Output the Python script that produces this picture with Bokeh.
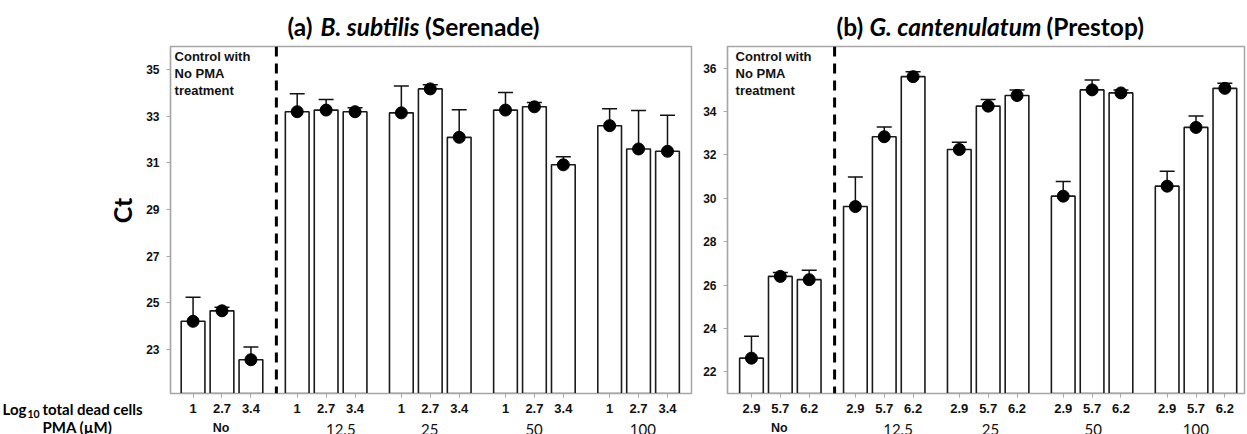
import math
from bokeh.plotting import figure
from bokeh.models import Range1d, FixedTicker, Span, Label, Whisker, TeeHead, ColumnDataSource
from bokeh.layouts import row, column
from bokeh.core.properties import value
from bokeh.embed import file_html
from bokeh.resources import INLINE

# ---------------- data ----------------
groups = ["No", "12.5", "25", "50", "100"]
left_cells = ["1", "2.7", "3.4"]
right_cells = ["2.9", "5.7", "6.2"]

left_ct = [24.2, 24.65, 22.55, 33.2, 33.27, 33.2, 33.15, 34.18, 32.1, 33.27, 33.41, 30.92, 32.6, 31.6, 31.5]
left_lo = [23.1, 24.5, 22.0, 32.5, 32.8, 32.99, 31.98, 34.0, 30.88, 32.5, 33.2, 30.62, 31.88, 29.98, 29.98]
left_hi = [25.23, 24.8, 23.1, 33.97, 33.72, 33.37, 34.3, 34.36, 33.28, 34.03, 33.6, 31.27, 33.33, 33.25, 33.05]

right_ct = [22.63, 26.4, 26.25, 29.62, 32.84, 35.61, 32.25, 34.25, 34.74, 30.1, 35.0, 34.86, 30.56, 33.27, 35.07]
right_lo = [21.6, 26.2, 25.86, 28.3, 32.45, 35.46, 31.95, 33.95, 34.51, 29.5, 34.53, 34.68, 29.87, 32.75, 34.81]
right_hi = [23.64, 26.58, 26.68, 30.98, 33.29, 35.83, 32.59, 34.56, 35.0, 30.78, 35.46, 35.0, 31.25, 33.8, 35.31]

left_yticks = [23, 25, 27, 29, 31, 33, 35]
right_yticks = [22, 24, 26, 28, 30, 32, 34, 36]

left_title = ["(a)", "B. subtilis", "(Serenade)"]
right_title = ["(b)", "G. cantenulatum", "(Prestop)"]

# ---------------- layout ----------------
W, H = 1247, 434
CAP_W = 143          # left caption column
TOP_H = 45           # title strip
BOT_H = 14           # group-label strip
MAIN_H = H - TOP_H - BOT_H
GROUP_STEP = 3.6
xs = [round(g * GROUP_STEP + i, 2) for g in range(len(groups)) for i in range(3)]
ARIAL = "Liberation Sans"
CAL = "Lato"


def strip(width, height, x_range, y_range, bl=0, br=0):
    s = figure(width=width, height=height, x_range=x_range, y_range=y_range,
               x_axis_type=None, y_axis_type=None, output_backend="svg",
               toolbar_location=None, min_border_left=bl, min_border_right=br,
               min_border_top=0, min_border_bottom=0)
    s.outline_line_color = None
    s.grid.visible = False
    return s


def make_panel(width, bl, br, xr, yr, yticks, cells, ct, lo, hi, control_x):
    p = figure(width=width, height=MAIN_H, min_border_left=bl, min_border_right=br,
               min_border_top=1, min_border_bottom=MAIN_H - 1 - 347,
               x_range=Range1d(*xr), y_range=Range1d(*yr),
               output_backend="svg", toolbar_location=None)
    p.grid.visible = False
    p.outline_line_color = "#a6a6a6"
    p.outline_line_width = 1.5

    src = ColumnDataSource(dict(x=xs, ct=ct, lo=lo, hi=hi))
    p.vbar(x="x", width=0.82, bottom=yr[0] - 1, top="ct", source=src,
           fill_color="white", line_color="#1a1a1a", line_width=1.6)
    p.add_layout(Whisker(base="x", upper="hi", lower="lo", source=src,
                         line_color="#111111", line_width=1.5,
                         upper_head=TeeHead(size=15, line_width=1.5, line_color="#111111"),
                         lower_head=TeeHead(size=15, line_width=1.5, line_color="#111111")))
    p.scatter(x="x", y="ct", source=src, size=12, color="black")
    p.add_layout(Span(location=2.88, dimension="height", line_color="black",
                      line_width=3, line_dash="10 7"))

    for ax in (p.xaxis[0], p.yaxis[0]):
        ax.axis_line_color = "#a6a6a6"
        ax.axis_line_width = 1.2
        ax.major_tick_line_color = "#a6a6a6"
        ax.major_tick_in = 0
        ax.major_tick_out = 4
        ax.minor_tick_line_color = None
        ax.major_label_text_font = ARIAL
        ax.major_label_text_font_style = "bold"
        ax.major_label_text_color = "#111111"
    p.yaxis.ticker = FixedTicker(ticks=yticks)
    p.yaxis.major_label_text_font_size = "12px"
    p.yaxis.major_label_standoff = 7
    p.xaxis.ticker = FixedTicker(ticks=xs)
    p.xaxis.major_label_overrides = {x: cells[k % 3] for k, x in enumerate(xs)}
    p.xaxis.major_label_text_font_size = "13px"
    p.xaxis.major_label_standoff = 6

    # control note inside frame (pixel offsets from frame top)
    ppy = (yr[1] - yr[0]) / 347.0
    for k, line in enumerate(["Control with", "No PMA", "treatment"]):
        p.add_layout(Label(x=control_x, y=yr[1] - (10 + 17 * k) * ppy, text=line,
                           text_font=ARIAL, text_font_size="13px",
                           text_font_style="bold", text_align="left",
                           text_baseline="middle", text_color="#111111"))
    return p


def group_strip(width, bl, br, x_range, offsets):
    s = strip(width, BOT_H, x_range, Range1d(BOT_H, 0), bl, br)
    cx = [g * GROUP_STEP + 1 + offsets[g] for g in range(len(groups))]
    s.text(x=cx[:1], y=[7.5], text=groups[:1], text_font=value(ARIAL),
           text_font_size="12.5px", text_font_style="bold", text_align="center",
           text_baseline="middle", text_color="#111111")
    s.text(x=cx[1:], y=[9] * 4, text=groups[1:], text_font=value(CAL),
           text_font_size="15px", text_align="center",
           text_baseline="middle", text_color="#111111")
    return s


L_W = 700 - CAP_W
pL = make_panel(L_W, 169 - CAP_W, 9, (-0.78, 17.23), (21.1, 36.0), left_yticks,
                left_cells, left_ct, left_lo, left_hi, -0.64)
pR = make_panel(547, 26, 3, (-0.83, 17.08), (21.0, 37.0), right_yticks,
                right_cells, right_ct, right_lo, right_hi, -0.55)
gL = group_strip(L_W, 169 - CAP_W, 9, pL.x_range, [0, 0.53, 0, 0, 0.15])
gR = group_strip(547, 26, 3, pR.x_range, [0, 0.5, 0.1, 0.05, 0])

# title strip (page pixel coordinates)
top = strip(W - CAP_W, TOP_H, Range1d(CAP_W, W), Range1d(TOP_H, 0))
for parts, xs_px in ((left_title, [287, 320, 424.5]), (right_title, [836, 869, 1046])):
    for txt, xp, st in zip(parts, xs_px, ["bold", "bold italic", "bold"]):
        top.text(x=[xp], y=[26], text=[txt], text_font=value(CAL), text_font_size="24.5px",
                 text_font_style=st, text_align="left", text_baseline="middle",
                 text_color="black")

# left caption column (page pixel coordinates)
cap = strip(CAP_W, H, Range1d(0, CAP_W), Range1d(H, 0))
cap.text(x=[121], y=[210], text=["Ct"], angle=math.pi / 2, text_font=value(CAL),
         text_font_size="25px", text_font_style="bold", text_align="center",
         text_baseline="middle", text_color="black")
cap.text(x=[2], y=[408], text=["Log"], text_font=value(CAL), text_font_size="15px",
         text_font_style="bold", text_align="left", text_baseline="middle", text_color="black")
cap.text(x=[27], y=[413], text=["10"], text_font=value(CAL), text_font_size="10.5px",
         text_font_style="bold", text_align="left", text_baseline="middle", text_color="black")
cap.text(x=[42], y=[408], text=["total dead cells"], text_font=value(CAL), text_font_size="15px",
         text_font_style="bold", text_align="left", text_baseline="middle", text_color="black")
cap.text(x=[77], y=[426], text=["PMA (\u00b5M)"], text_font=value(CAL), text_font_size="15px",
         text_font_style="bold", text_align="center", text_baseline="middle", text_color="black")

layout = row(cap, column(top, row(pL, pR), row(gL, gR)))
open("out.html", "w").write(file_html(layout, INLINE))
